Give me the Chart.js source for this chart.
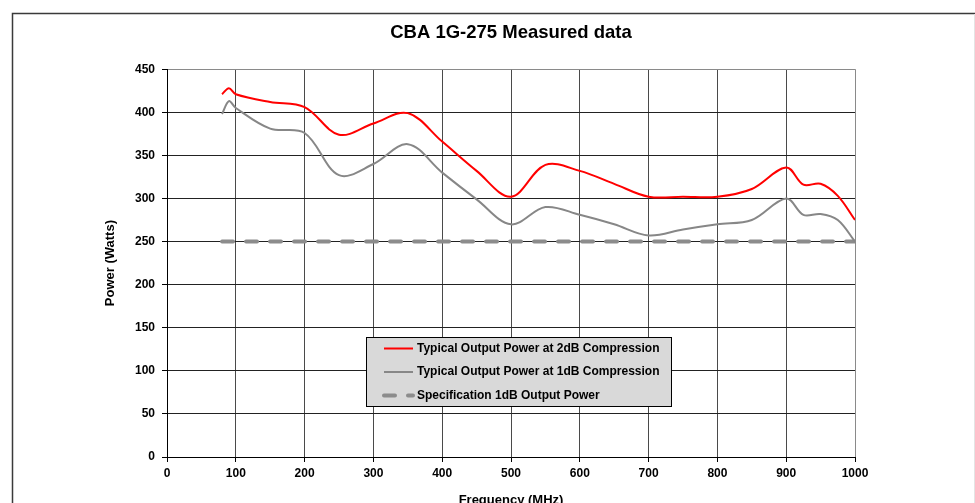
<!DOCTYPE html>
<html>
<head>
<meta charset="utf-8">
<script src="https://cdn.jsdelivr.net/npm/chart.js@4.4.1/dist/chart.umd.min.js"></script>
<style>
  body { margin: 0; background: #fff; }
  #wrap { width: 975px; height: 503px; }
</style>
</head>
<body>
<div id="wrap"><canvas id="myChart" width="975" height="503"></canvas></div>
<script>
// Frequencies (MHz)
var freqs = [80, 90, 100, 150, 200, 250, 300, 350, 400, 450, 500, 550, 600, 650, 700, 750, 800, 850, 900, 925, 950, 975, 1000];

// Typical output power at 2dB compression (Watts)
var power2dB = [421, 428, 421, 412, 406, 374, 387, 399, 366, 332, 302, 339, 332, 317, 302, 302, 302, 311, 336, 316, 317, 303, 275];

// Typical output power at 1dB compression (Watts)
var power1dB = [398, 413, 405, 381, 376, 327, 340, 363, 330, 299, 270, 290, 281, 270, 257, 264, 270, 275, 300, 281, 282, 275, 250];

// Specification 1dB output power
var specFreqs = [80, 1000];
var specPower = [250, 250];

var labels = ["Typical Output Power at 2dB Compression", "Typical Output Power at 1dB Compression", "Specification 1dB Output Power"];
var titleText = "CBA 1G-275 Measured data";
var xTitle = "Frequency (MHz)";
var yTitle = "Power (Watts)";

var fontFamily = "'Liberation Sans', Arial, sans-serif";

function toPoints(xs, ys) {
    var out = [];
    for (var i = 0; i < xs.length; i++) {
        out.push({ x: xs[i], y: ys[i] });
    }
    return out;
}

//Draws the outer frame and centres the title over the plot
var framePlugin = {
    id: "frame",
    afterLayout: function (chart) {
        ///Title centred on the plot area, like the original
        if (chart.titleBlock) {
            chart.titleBlock.left = chart.chartArea.left;
            chart.titleBlock.right = chart.chartArea.right;
        }
    },
    beforeDraw: function (chart) {
        var ctx = chart.ctx;
        ctx.save();
        ctx.strokeStyle = "#3a3a3a";
        ctx.lineWidth = 1.5;
        ctx.beginPath();
        ctx.moveTo(12.5, 503);
        ctx.lineTo(12.5, 13.5);
        ctx.lineTo(975, 13.5);
        ctx.stroke();
        ctx.strokeStyle = "#e4e4e4";
        ctx.lineWidth = 1;
        ctx.beginPath();
        ctx.moveTo(974.5, 14);
        ctx.lineTo(974.5, 503);
        ctx.stroke();
        ctx.restore();
    }
};

//Draws the grey legend box inside the plot
var boxLegendPlugin = {
    id: "boxLegend",
    afterDatasetsDraw: function (chart) {
        var ctx = chart.ctx;
        var bx = 366.5, by = 337.5, bw = 305, bh = 69;
        ctx.save();
        ctx.fillStyle = "#d9d9d9";
        ctx.fillRect(bx, by, bw, bh);
        ctx.strokeStyle = "#000";
        ctx.lineWidth = 1;
        ctx.strokeRect(bx, by, bw, bh);

        var rows = [348.5, 372, 395.5];
        chart.data.datasets.forEach(function (ds, i) {
            var y = rows[i];
            ctx.beginPath();
            ctx.strokeStyle = ds.borderColor;
            ctx.lineWidth = ds.borderWidth;
            ctx.setLineDash(ds.borderDash || []);
            ctx.lineCap = ds.borderDash ? "round" : "butt";
            ctx.moveTo(384, y);
            ctx.lineTo(413, y);
            ctx.stroke();
            ctx.setLineDash([]);
            ctx.fillStyle = "#000";
            ctx.font = "bold 12px " + fontFamily;
            ctx.textBaseline = "middle";
            ctx.textAlign = "left";
            ctx.fillText(ds.label, 417, y);
        });
        ctx.restore();
    }
};

function plainTick(value) {
    return String(value);
}

var chart = new Chart("myChart", {
    type: "line",
    data: {
        datasets: [{
                label: labels[0],
                data: toPoints(freqs, power2dB),
                borderColor: "#ff0000",
                borderWidth: 2,
                pointRadius: 0,
                tension: 0.35,
                fill: false
            }, {
                label: labels[1],
                data: toPoints(freqs, power1dB),
                borderColor: "#878787",
                borderWidth: 2,
                pointRadius: 0,
                tension: 0.35,
                fill: false
            }, {
                label: labels[2],
                data: toPoints(specFreqs, specPower),
                borderColor: "#8c8c8c",
                borderWidth: 4,
                borderDash: [11, 13],
                borderCapStyle: "round",
                pointRadius: 0,
                fill: false
            }
        ]
    },
    options: {
        responsive: false,
        animation: false,
        devicePixelRatio: 1,
        layout: {
            padding: { left: 100, right: 120, top: 0, bottom: 0 }
        },
        plugins: {
            legend: { display: false },
            tooltip: { enabled: false },
            title: {
                display: true,
                text: titleText,
                color: "#000",
                font: { family: fontFamily, size: 18.5, weight: "bold" },
                padding: { top: 22, bottom: 25 }
            }
        },
        scales: {
            x: {
                type: "linear",
                min: 0,
                max: 1000,
                ticks: {
                    stepSize: 100,
                    color: "#000",
                    padding: 4,
                    callback: plainTick,
                    font: { family: fontFamily, size: 12, weight: "bold" }
                },
                grid: {
                    color: function (c) { return c.tick && c.tick.value === 1000 ? "#8a8a8a" : "#4a4a4a"; },
                    tickColor: "#000",
                    tickLength: 5
                },
                border: { color: "#000" },
                title: {
                    display: true,
                    text: xTitle,
                    color: "#000",
                    font: { family: fontFamily, size: 13, weight: "bold" },
                    padding: { top: 0, bottom: -5 }
                },
                afterFit: function (scale) { scale.height = 46; }
            },
            y: {
                min: 0,
                max: 450,
                ticks: {
                    stepSize: 50,
                    color: "#000",
                    padding: 7,
                    callback: plainTick,
                    font: { family: fontFamily, size: 12, weight: "bold" }
                },
                grid: {
                    color: function (c) { return c.tick && c.tick.value === 450 ? "#8a8a8a" : "#222"; },
                    tickColor: "#000",
                    tickLength: 5
                },
                border: { color: "#000" },
                title: {
                    display: true,
                    text: yTitle,
                    color: "#000",
                    font: { family: fontFamily, size: 13, weight: "bold" },
                    padding: { top: 3, bottom: 0 }
                },
                afterFit: function (scale) { scale.width = 67; }
            }
        }
    },
    plugins: [framePlugin, boxLegendPlugin]
});
</script>
</body>
</html>
